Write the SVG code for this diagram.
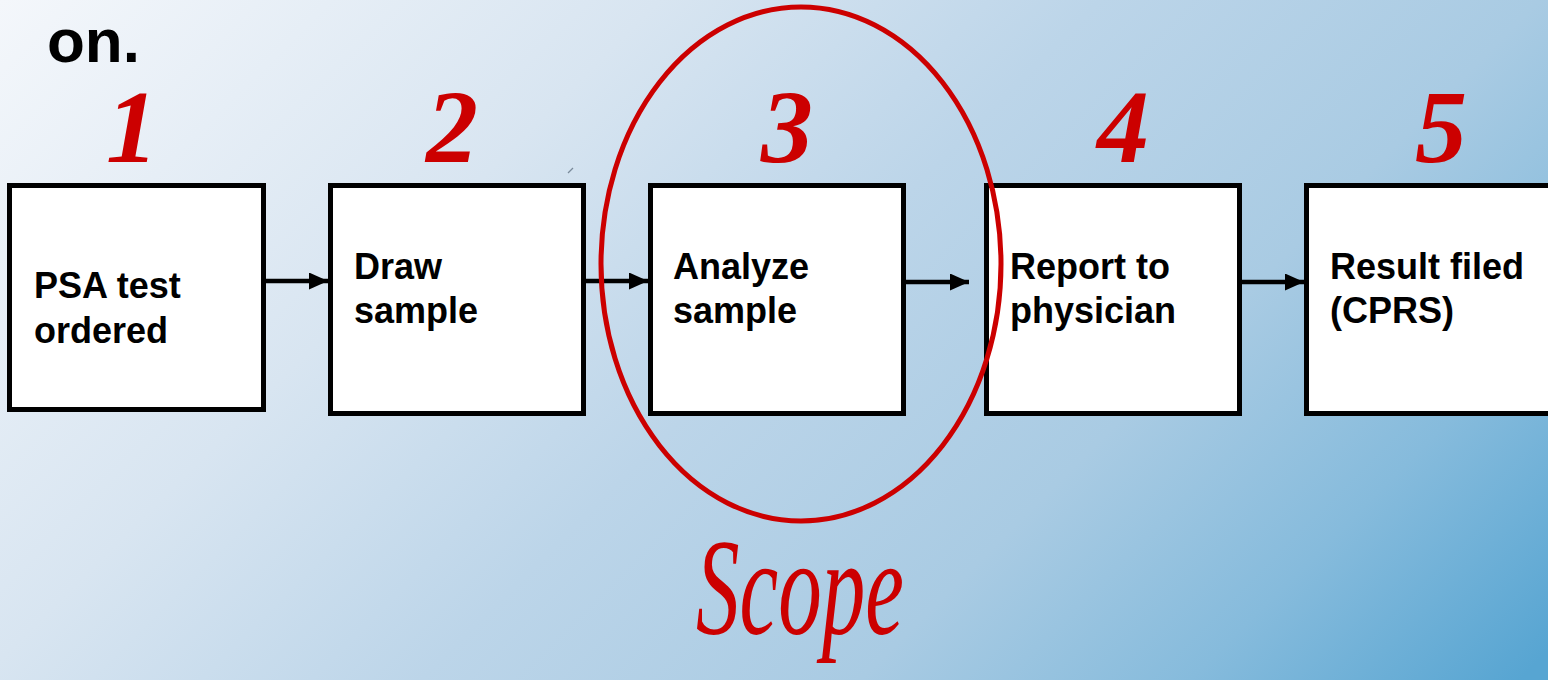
<svg xmlns="http://www.w3.org/2000/svg" width="1548" height="680" viewBox="0 0 1548 680">
<defs>
<linearGradient id="bg" x1="0" y1="0" x2="1100" y2="1100" gradientUnits="userSpaceOnUse">
<stop offset="0" stop-color="#f4f7fb"/>
<stop offset="0.3" stop-color="#d8e5f1"/>
<stop offset="0.5" stop-color="#bcd5e9"/>
<stop offset="0.7" stop-color="#a9cbe3"/>
<stop offset="0.85" stop-color="#86bbdc"/>
<stop offset="1" stop-color="#57a5d2"/>
</linearGradient>
<marker id="ah" markerWidth="19" markerHeight="17" refX="19" refY="8.5" orient="auto" markerUnits="userSpaceOnUse">
<path d="M0,0 L19,8.5 L0,17 Z" fill="#000"/>
</marker>
<style>
.box{fill:#fff;stroke:#000;stroke-width:5}
.lbl{font-family:"Liberation Sans",Arial,sans-serif;font-weight:bold;font-size:36px;fill:#000}
.num{font-family:"Liberation Serif","Times New Roman",serif;font-style:italic;font-weight:bold;font-size:104px;fill:#cc0000;text-anchor:middle}
.conn{stroke:#000;stroke-width:4.5;fill:none;marker-end:url(#ah)}
</style>
</defs>
<rect x="0" y="0" width="1548" height="680" fill="url(#bg)"/>
<text x="47" y="62" font-family="Liberation Sans,Arial,sans-serif" font-weight="bold" font-size="62" fill="#000">on.</text>
<line x1="568" y1="173" x2="573" y2="168" stroke="#7a8a9a" stroke-width="1.2"/>
<g id="numbers">
<text class="num" x="132" y="162">1</text>
<text class="num" x="452" y="162">2</text>
<text class="num" x="787" y="162">3</text>
<text class="num" x="1123" y="162">4</text>
<text class="num" x="1441" y="162">5</text>
</g>
<g id="node1"><rect class="box" x="9.5" y="185.5" width="254" height="224"/>
<text class="lbl" x="34" y="298">PSA test</text><text class="lbl" x="34" y="343">ordered</text></g>
<g id="node2"><rect class="box" x="330.5" y="185.5" width="253" height="228"/>
<text class="lbl" x="354" y="279">Draw</text><text class="lbl" x="354" y="323">sample</text></g>
<g id="node3"><rect class="box" x="650.5" y="185.5" width="253" height="228"/>
<text class="lbl" x="673" y="279">Analyze</text><text class="lbl" x="673" y="323">sample</text></g>
<g id="node4"><rect class="box" x="986.5" y="185.5" width="253" height="228"/>
<text class="lbl" x="1010" y="279">Report to</text><text class="lbl" x="1010" y="323">physician</text></g>
<g id="node5"><rect class="box" x="1306.5" y="185.5" width="260" height="228"/>
<text class="lbl" x="1330" y="279">Result filed</text><text class="lbl" x="1330" y="323">(CPRS)</text></g>
<g id="connectors">
<line class="conn" x1="265" y1="281" x2="328" y2="281"/>
<line class="conn" x1="586" y1="281" x2="648" y2="281"/>
<line class="conn" x1="906" y1="282" x2="969" y2="282"/>
<line class="conn" x1="1242" y1="282" x2="1304" y2="282"/>
</g>
<g id="scope">
<ellipse cx="801" cy="264" rx="200" ry="257" fill="none" stroke="#cc0000" stroke-width="5"/>
<text x="800" y="634" text-anchor="middle" font-family="Liberation Serif,serif" font-style="italic" font-size="138" fill="#cc0000" textLength="208" lengthAdjust="spacingAndGlyphs">Scope</text>
</g>
</svg>
